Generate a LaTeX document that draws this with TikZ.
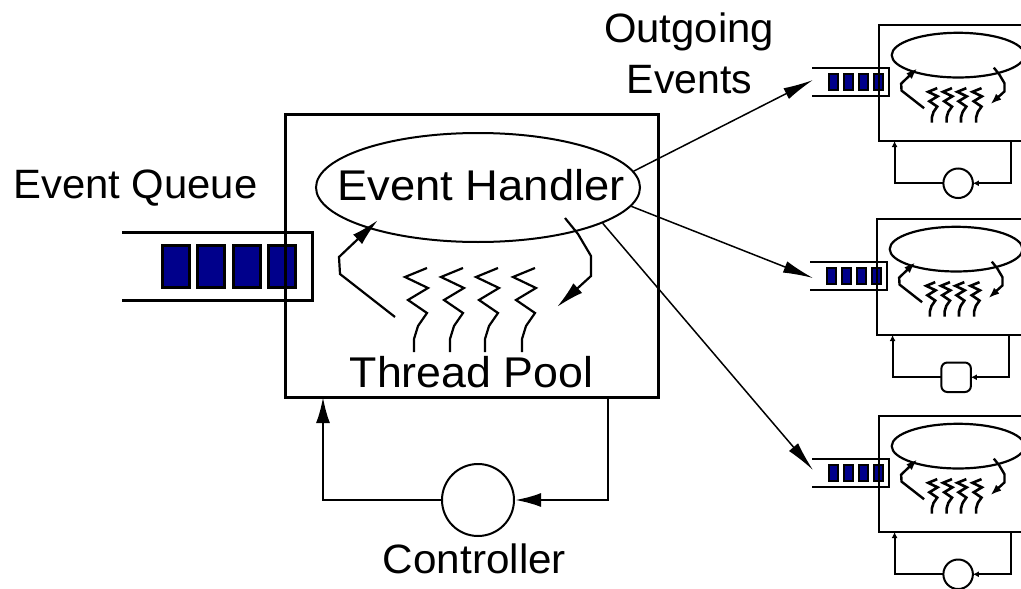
\documentclass[tikz,border=0pt]{standalone}
\usepackage{fontspec}
\setmainfont{Liberation Sans}
\usetikzlibrary{arrows.meta,shapes.geometric}
\definecolor{qblue}{RGB}{0,0,139}
\newcommand\squig[2]{\draw[#2] (#1,268) -- ++(-22,9) -- ++(23,11) -- ++(-20,12) -- ++(19,13) -- ++(-9,13) -- ++(-4,13) -- ++(0,13);}
\newcommand\stagebody{%
  \draw[line width=2.5pt] (285,114) rectangle (658,397);
  \draw[line width=2.2pt] (478,187.5) ellipse [x radius=162, y radius=54.5];
  \foreach \x in {427,463,498,535} {\squig{\x}{line width=2.6pt}}
  \draw[line width=2.4pt, -{Latex[length=11pt,width=8pt]}] (395,317) -- (340,274) -- (339,257) -- (378,220);
  \draw[line width=2.4pt, -{Latex[length=11pt,width=8pt]}] (565,218) -- (578,234) -- (591,256) -- (591,276) -- (557,307);
  \draw[line width=2pt, -{Latex[length=6pt,width=6pt]}] (442,500) -| (323,397);
  \draw[line width=2pt, -{Latex[length=6pt,width=6pt]}] (608,397) |- (514,500);
}
\newcommand\stagequeue{%
  \foreach \x in {-50,-35,-20,-5} \draw[line width=1.2pt, fill=qblue] (\x,49) rectangle ++(9,16);
  \draw[line width=2pt] (-67,43) -- (10,43) -- (10,71) -- (-67,71);
}
\newcommand\wide[2]{\scalebox{#1}[1]{#2}}
\begin{document}
\begin{tikzpicture}[x=1pt,y=-1pt,
  lbl/.style={font=\fontsize{41}{41}\selectfont, inner sep=0pt},
  blbl/.style={font=\fontsize{43}{43}\selectfont, inner sep=0pt},
  qcell/.style={line width=3pt, fill=qblue},
  inarrow/.style={line width=2.2pt, -{Latex[length=28pt,width=13pt]}},
  outarrow/.style={line width=1.5pt, -{Latex[length=30pt,width=12pt]}},
  ctlarrow/.style={line width=2.5pt, -{Latex[length=26pt,width=14pt]}}]
\path[use as bounding box] (0,0) rectangle (1021,589);
\clip (0,0) rectangle (1021,589);

% ---------- main stage ----------
\foreach \x in {162,197,233,268} \draw[qcell] (\x,245) rectangle ++(27,42);
\draw[line width=3pt] (122,232) -- (312,232) -- (312,300) -- (122,300);
\node[draw, line width=3pt, minimum width=373pt, minimum height=283pt, inner sep=0pt] (box) at (471.5,255.5) {};
\node[draw, ellipse, line width=2pt, minimum width=324pt, minimum height=109pt, inner sep=0pt] (eh) at (478,187.5) {};
\node[blbl, anchor=base] (ehlabel) at (481,200) {\wide{1.055}{Event Handler}};
\foreach \x in {427,463,498,535} {\squig{\x}{line width=2.2pt}}
\coordinate (la0) at (395,317); \coordinate (la1) at (378,220);
\coordinate (ra0) at (565,218); \coordinate (ra1) at (557,307);
\draw[inarrow] (la0) -- (340,274) -- (339,257) -- (la1);
\draw[inarrow] (ra0) -- (578,234) -- (591,256) -- (591,276) -- (ra1);
\node[blbl, anchor=base] (tp) at (471.5,387) {\wide{1.04}{Thread Pool}};

% controller
\node[draw, circle, line width=2pt, minimum size=72pt, inner sep=0pt] (ctl) at (478,500) {};
\coordinate (cl) at (323,397); \coordinate (cr) at (608,397);
\draw[ctlarrow] (ctl.west) -| (cl);
\draw[ctlarrow] (cr) |- (ctl.east);
\node[lbl, anchor=base] (ct) at (474.5,573) {\wide{1.03}{Controller}};

% labels
\node[lbl, anchor=base west] (eq) at (13,198) {\wide{1.02}{Event Queue}};
\node[lbl, anchor=base] (og) at (689,42) {\wide{1.02}{Outgoing}};
\node[lbl, anchor=base] (oe) at (689.5,93) {Events};

% ---------- downstream stages ----------
\begin{scope}[shift={(879,25)}] \stagequeue \end{scope}
\begin{scope}[shift={(879,25)}, scale=0.41, shift={(-285,-114)}]
  \stagebody
  \draw[line width=2pt] (478,500) circle [radius=36];
\end{scope}
\begin{scope}[shift={(877,219)}] \stagequeue \end{scope}
\begin{scope}[shift={(877,219)}, scale=0.41, shift={(-285,-114)}]
  \stagebody
  \draw[line width=2pt, rounded corners=6pt] (442,464) rectangle (514,536);
\end{scope}
\begin{scope}[shift={(879,416)}] \stagequeue \end{scope}
\begin{scope}[shift={(879,416)}, scale=0.41, shift={(-285,-114)}]
  \stagebody
  \draw[line width=2pt] (478,500) circle [radius=36];
\end{scope}

% outgoing events
\coordinate (q1) at (813,80);
\coordinate (q2) at (813,278);
\coordinate (q3) at (813,470);
\draw[outarrow] (eh.6) -- (q1);
\draw[outarrow] (eh.-7) -- (q2);
\draw[outarrow] (eh.-16) -- (q3);
\end{tikzpicture}
\end{document}
